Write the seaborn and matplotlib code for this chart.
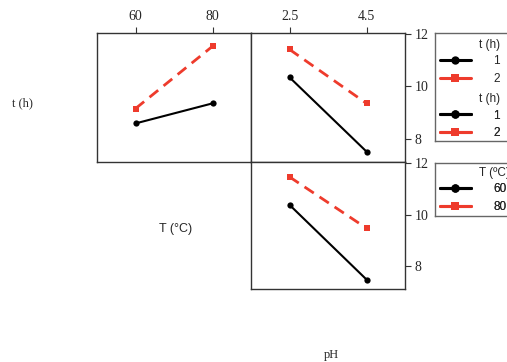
import pandas as pd
import numpy as np
import matplotlib
matplotlib.use("Agg")
import matplotlib.pyplot as plt
import seaborn as sns

# factor levels
T_levels = [60, 80]
pH_levels = [2.5, 4.5]

# mean response
t_by_T = {1: [8.58, 9.35], 2: [9.15, 11.54]}       # t(h) lines vs T
t_by_pH = {1: [10.35, 7.50], 2: [11.42, 9.35]}     # t(h) lines vs pH
T_by_pH = {60: [10.38, 7.47], 80: [11.47, 9.47]}   # T lines vs pH

y_ticks = [8, 10, 12]

RED = "#ee3b2c"
W, H = 507, 362

sns.set_style("white")
plt.rcParams["font.family"] = ["Liberation Serif", "DejaVu Serif"]


def to_df(lines, xs, xname, gname):
    rows = []
    for g, vals in lines.items():
        for x, v in zip(xs, vals):
            rows.append({xname: x, gname: str(g), "y": v})
    return pd.DataFrame(rows)


def px(x0, y0, x1, y1):
    return [x0 / W, 1 - y1 / H, (x1 - x0) / W, (y1 - y0) / H]


def draw(ax, df, xname, gname):
    levels = list(df[gname].unique())
    pal = dict(zip(levels, ["black", RED]))
    mk = dict(zip(levels, ["o", "s"]))
    ds = dict(zip(levels, ["", (4, 2.5)]))
    sns.lineplot(data=df, x=xname, y="y", hue=gname, style=gname,
                 palette=pal, markers=mk, dashes=ds, markersize=4.5,
                 markeredgewidth=0, ax=ax, legend=True)
    for ln, lw in zip(ax.get_lines(), [1.5, 2.0]):
        ln.set_linewidth(lw)
    h, l = ax.get_legend_handles_labels()
    if ax.get_legend() is not None:
        ax.get_legend().remove()
    ax.set_xlabel("")
    ax.set_ylabel("")
    ax.set_ylim(7.1, 12.05)
    for s in ax.spines.values():
        s.set_color("#333333")
        s.set_linewidth(1.0)
    return h, l


fig = plt.figure(figsize=(W / 100, H / 100), dpi=100)

ax1 = fig.add_axes(px(97, 33, 251, 162))
ax2 = fig.add_axes(px(251, 33, 405, 162))
ax3 = fig.add_axes(px(251, 162, 405, 289))

draw(ax1, to_df(t_by_T, T_levels, "T", "t"), "T", "t")
h2, l2 = draw(ax2, to_df(t_by_pH, pH_levels, "pH", "t"), "pH", "t")
h3, l3 = draw(ax3, to_df(T_by_pH, pH_levels, "pH", "T"), "pH", "T")

ax1.set_xlim(50, 90)
ax2.set_xlim(1.5, 5.5)
ax3.set_xlim(1.5, 5.5)

tick_kw = dict(direction="out", length=4, width=0.8, color="#333333",
               labelsize=10, pad=3)
ax1.xaxis.tick_top()
ax1.set_xticks(T_levels)
ax1.set_xticklabels([str(v) for v in T_levels])
ax1.set_yticks([])
ax1.tick_params(axis="x", **tick_kw)

ax2.xaxis.tick_top()
ax2.set_xticks(pH_levels)
ax2.set_xticklabels([str(v) for v in pH_levels])
ax2.yaxis.tick_right()
ax2.set_yticks(y_ticks)
ax2.tick_params(axis="both", **tick_kw)

ax3.set_xticks([])
ax3.yaxis.tick_right()
ax3.set_yticks(y_ticks)
ax3.tick_params(axis="y", **tick_kw)

# diagonal variable names
fig.text(22 / W, 1 - 103 / H, "t (h)", ha="center", va="center", fontsize=9)
fig.text(176 / W, 1 - 229 / H, "T (°C)", ha="center", va="center",
         fontsize=9, family=["Liberation Sans", "DejaVu Sans"])
fig.text(331 / W, 1 - 355 / H, "pH", ha="center", va="center", fontsize=9)

# legend boxes
sans = ["Liberation Sans", "DejaVu Sans"]


def legend_box(rect, groups):
    la = fig.add_axes(px(*rect))
    la.set_xticks([])
    la.set_yticks([])
    la.set_xlim(0, 1)
    la.set_ylim(0, 1)
    for s in la.spines.values():
        s.set_color("#666666")
        s.set_linewidth(1.0)
    x0, y0, x1, y1 = rect
    for title, handles, labels, top in groups:
        ty = 1 - (top - y0) / (y1 - y0)
        la.text((479 - x0) / (x1 - x0), ty, title, ha="left", va="center",
                fontsize=8.5, family=sans)
        leg = la.legend(handles, labels, loc="upper left",
                        bbox_to_anchor=((440 - x0) / (x1 - x0),
                                        ty - 10.5 / (y1 - y0)),
                        frameon=False, handlelength=2.6, handletextpad=1.9,
                        labelspacing=0.45, borderpad=0, borderaxespad=0,
                        prop={"family": sans, "size": 8.5})
        for hd in leg.legend_handles:
            hd.set_linestyle("-")
            hd.set_linewidth(2.2)
            hd.set_markersize(6)
        la.add_artist(leg)


legend_box((435, 33, 530, 141), [("t (h)", h2, l2, 45), ("t (h)", h2, l2, 99)])
legend_box((435, 163, 530, 216), [("T (ºC)", h3, l3, 173)])

fig.savefig("out.png", dpi=100)
